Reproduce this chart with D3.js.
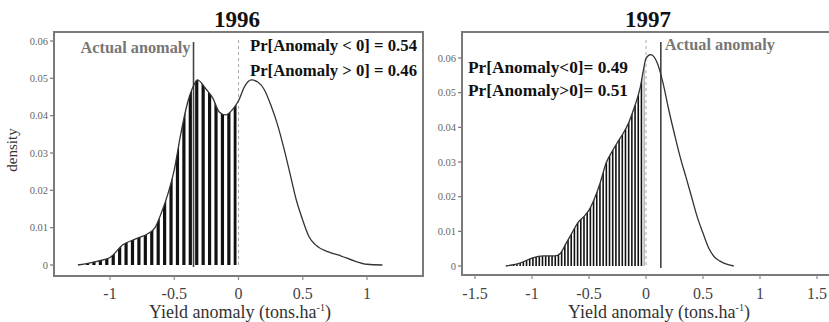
<!DOCTYPE html>
<html>
<head>
<meta charset="utf-8">
<script src="https://cdn.jsdelivr.net/npm/d3@7"></script>
<style>
  body { margin: 0; background: #fff; }
  svg { display: block; font-family: "Liberation Serif", "DejaVu Serif", serif; }
</style>
</head>
<body>
<svg width="829" height="322"></svg>
<script>
// ─── DATA ────────────────────────────────────────────────────────────────────

const anomaly1996 = [-1.25, -1.1, -1.0, -0.9, -0.8, -0.7, -0.65, -0.6, -0.55, -0.5, -0.45, -0.4, -0.35, -0.32,
  -0.25, -0.2, -0.15, -0.1, -0.05, 0, 0.05, 0.1, 0.15, 0.2, 0.25, 0.3, 0.35, 0.4, 0.45, 0.5, 0.55, 0.6,
  0.7, 0.8, 0.9, 1.0, 1.12];
const density1996 = [0, 0.001, 0.002, 0.0054, 0.007, 0.0085, 0.010, 0.014, 0.019, 0.0255, 0.035, 0.043, 0.048, 0.0496,
  0.047, 0.0447, 0.041, 0.0402, 0.0415, 0.044, 0.048, 0.0496, 0.049, 0.047, 0.043, 0.038, 0.0317, 0.0246, 0.0174, 0.012, 0.0075, 0.0054,
  0.0035, 0.0024, 0.0011, 0.0002, 0];

const anomaly1997 = [-1.23, -1.1, -1.0, -0.9, -0.8, -0.75, -0.7, -0.65, -0.6, -0.55, -0.5, -0.45, -0.4, -0.35, -0.3,
  -0.25, -0.2, -0.15, -0.1, -0.05, -0.02, 0, 0.04, 0.1, 0.15, 0.2, 0.25, 0.3, 0.35, 0.4, 0.45, 0.5, 0.55, 0.6,
  0.65, 0.7, 0.77];
const density1997 = [0, 0.0009, 0.0023, 0.0029, 0.0029, 0.0037, 0.0066, 0.0095, 0.0124, 0.0141, 0.0161, 0.0196, 0.0242, 0.0297, 0.0329,
  0.0357, 0.0383, 0.0415, 0.046, 0.0516, 0.057, 0.0599, 0.061, 0.0585, 0.0527, 0.045, 0.038, 0.0314, 0.0257, 0.0199,
  0.0141, 0.0095, 0.0052, 0.0026, 0.0014, 0.0006, 0];

const yTicks = [0, 0.01, 0.02, 0.03, 0.04, 0.05, 0.06];
const xTicks1996 = [-1, -0.5, 0, 0.5, 1];
const xTicks1997 = [-1.5, -1, -0.5, 0, 0.5, 1, 1.5];

const actual1996 = -0.35, actual1997 = 0.13;
const probLabels1996 = ["Pr[Anomaly < 0] = 0.54", "Pr[Anomaly > 0] = 0.46"];
const probLabels1997 = ["Pr[Anomaly<0]= 0.49", "Pr[Anomaly>0]= 0.51"];

// ─── PANELS ──────────────────────────────────────────────────────────────────

const svg = d3.select("svg");

const panels = [
  {
    id: "p96", title: "1996", xs: anomaly1996, ys: density1996, xTicks: xTicks1996, actual: actual1996,
    probs: probLabels1996, probX: 250, probY: [51, 76], probW: 167, labelSide: "left",
    box: [54, 32, 423, 276], x: [[-1, 1], [110, 367]], y: [265, 41], hatchStep: 0.05, hatchW: 3.2,
    titleX: 237, xTitleX: 240, yLabel: true
  },
  {
    id: "p97", title: "1997", xs: anomaly1997, ys: density1997, xTicks: xTicks1997, actual: actual1997,
    probs: probLabels1997, probX: 468, probY: [73, 96], probW: 160, labelSide: "right",
    box: [462, 32, 834, 275], x: [[-1.5, 1.5], [475, 817]], y: [266, 58], hatchStep: 0.028, hatchW: 1.6,
    titleX: 648, xTitleX: 659, yLabel: false
  }
];

panels.forEach(drawPanel);

function drawPanel(p) {
  const [bx0, by0, bx1, by1] = p.box;
  const x = d3.scaleLinear().domain(p.x[0]).range(p.x[1]);
  const y = d3.scaleLinear().domain([0, 0.06]).range(p.y);
  const pts = p.xs.map((v, i) => [v, p.ys[i]]);
  const g = svg.append("g");

  // area under the curve left of zero, used to clip the hatching
  const area = d3.area().curve(d3.curveMonotoneX)
    .x((d) => x(d[0])).y0(y(0)).y1((d) => y(d[1]));
  g.append("clipPath").attr("id", "clip-" + p.id)
    .append("path").attr("d", area(pts));
  g.append("clipPath").attr("id", "neg-" + p.id)
    .append("rect").attr("x", 0).attr("y", 0).attr("width", x(-0.015)).attr("height", 322);

  const hatch = d3.range(p.xs[0] + p.hatchStep / 2, -0.01, p.hatchStep);
  g.append("g").attr("clip-path", `url(#neg-${p.id})`)
    .append("g").attr("clip-path", `url(#clip-${p.id})`)
    .selectAll("line").data(hatch).join("line")
    .attr("x1", (d) => x(d)).attr("x2", (d) => x(d))
    .attr("y1", y(0) + 1).attr("y2", by0)
    .attr("stroke", "#111").attr("stroke-width", p.hatchW);

  // zero reference line (dashed) and actual anomaly line
  g.append("line")
    .attr("x1", x(0)).attr("x2", x(0)).attr("y1", by0 + 8).attr("y2", y(0) + 2)
    .attr("stroke", "#aaa").attr("stroke-width", 1).attr("stroke-dasharray", "3,3");
  g.append("line")
    .attr("x1", x(p.actual)).attr("x2", x(p.actual)).attr("y1", by0 + 10).attr("y2", y(0) + 2)
    .attr("stroke", "#444").attr("stroke-width", 1.6);

  // density curve
  g.append("path")
    .attr("d", d3.line().curve(d3.curveMonotoneX).x((d) => x(d[0])).y((d) => y(d[1]))(pts))
    .attr("fill", "none").attr("stroke", "#333").attr("stroke-width", 1.3);

  // frame
  g.append("rect")
    .attr("x", bx0).attr("y", by0).attr("width", bx1 - bx0).attr("height", by1 - by0)
    .attr("fill", "none").attr("stroke", "#7a7a7a").attr("stroke-width", 2);

  // y axis
  const yAxis = g.append("g");
  yAxis.selectAll("line").data(yTicks).join("line")
    .attr("x1", bx0 - 4).attr("x2", bx0).attr("y1", (d) => y(d)).attr("y2", (d) => y(d))
    .attr("stroke", "#777").attr("stroke-width", 1.2);
  yAxis.selectAll("text").data(yTicks).join("text")
    .attr("x", bx0 - 6).attr("y", (d) => y(d)).attr("dy", "0.35em")
    .attr("text-anchor", "end").attr("font-size", 10.5).attr("fill", "#666")
    .text((d) => (d === 0 ? "0" : d3.format(".2f")(d)));

  // x axis
  const xAxis = g.append("g");
  xAxis.selectAll("line").data(p.xTicks).join("line")
    .attr("x1", (d) => x(d)).attr("x2", (d) => x(d)).attr("y1", by1).attr("y2", by1 + 4)
    .attr("stroke", "#888").attr("stroke-width", 1.2);
  xAxis.selectAll("text").data(p.xTicks).join("text")
    .attr("x", (d) => x(d)).attr("y", 299)
    .attr("text-anchor", "middle").attr("font-size", 16).attr("fill", "#444")
    .text((d) => d);

  const xt = g.append("text")
    .attr("x", p.xTitleX).attr("y", 318).attr("text-anchor", "middle")
    .attr("font-size", 18).attr("fill", "#333").text("Yield anomaly (tons.ha");
  xt.append("tspan").attr("font-size", 10).attr("dy", -7).text("-1");
  xt.append("tspan").attr("dy", 7).text(")");

  if (p.yLabel) {
    g.append("text")
      .attr("transform", "translate(17,150) rotate(-90)")
      .attr("text-anchor", "middle").attr("font-size", 15).attr("fill", "#333")
      .text("density");
  }

  // title
  g.append("text")
    .attr("x", p.titleX).attr("y", 27).attr("text-anchor", "middle")
    .attr("font-size", 23).attr("font-weight", "bold").attr("fill", "#111")
    .text(p.title);

  // annotations
  const left = p.labelSide === "left";
  g.append("text")
    .attr("x", x(p.actual) + (left ? -3 : 4)).attr("y", left ? 53 : 50)
    .attr("text-anchor", left ? "end" : "start")
    .attr("font-size", 16).attr("font-weight", "bold").attr("fill", "#777")
    .attr("textLength", 110).attr("lengthAdjust", "spacingAndGlyphs")
    .text("Actual anomaly");

  g.selectAll("text.prob").data(p.probs).join("text").attr("class", "prob")
    .attr("x", p.probX).attr("y", (d, i) => p.probY[i])
    .attr("font-size", 16).attr("font-weight", "bold").attr("fill", "#111")
    .attr("textLength", p.probW).attr("lengthAdjust", "spacingAndGlyphs")
    .text((d) => d);
}
</script>
</body>
</html>
